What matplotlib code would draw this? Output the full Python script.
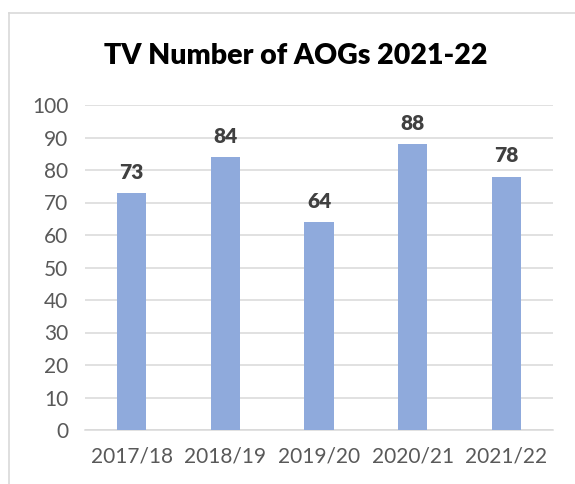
import matplotlib.pyplot as plt
from matplotlib.lines import Line2D

seasons = ["2017/18", "2018/19", "2019/20", "2020/21", "2021/22"]
aogs = [73, 84, 64, 88, 78]

plt.rcParams['font.family'] = ['Lato', 'DejaVu Sans']

fig = plt.figure(figsize=(5.75, 4.84), dpi=100)
ax = fig.add_axes([85 / 575, 1 - 430 / 484, (553 - 85) / 575, (430 - 105) / 484])

bars = ax.bar(range(len(seasons)), aogs, width=0.31, color="#8faadc", zorder=3)

# value labels above bars
for x, v in zip(range(len(seasons)), aogs):
    ax.annotate(str(v), (x, v), xytext=(0, 8), textcoords="offset points",
                ha="center", va="bottom", fontsize=15, fontweight="heavy", color="#404040")

ax.set_xlim(-0.5, len(seasons) - 0.5)
ax.set_ylim(0, 100)
ax.set_yticks(range(0, 101, 10))
ax.set_xticks(range(len(seasons)))
ax.set_xticklabels(seasons)
ax.grid(axis="y", color="#d9d9d9", linewidth=1.1, zorder=0)
ax.tick_params(axis="both", length=0, labelsize=15, labelcolor="#595959")
ax.tick_params(axis="x", pad=12)
ax.tick_params(axis="y", pad=12)
for s in ["top", "right", "left"]:
    ax.spines[s].set_visible(False)
ax.spines["bottom"].set_color("#d9d9d9")
ax.spines["bottom"].set_linewidth(1.1)

fig.text(296 / 575, 1 - 56 / 484, "TV Number of AOGs 2021-22", ha="center", va="center",
         fontsize=20.5, fontweight="heavy", color="black")

# chart frame (left and top edges only visible)
fig.add_artist(Line2D([9 / 575, 9 / 575], [0, 1 - 13 / 484], color="#d9d9d9", linewidth=1.2))
fig.add_artist(Line2D([9 / 575, 1], [1 - 13 / 484, 1 - 13 / 484], color="#d9d9d9", linewidth=1.2))

fig.savefig("out.png", dpi=100)
